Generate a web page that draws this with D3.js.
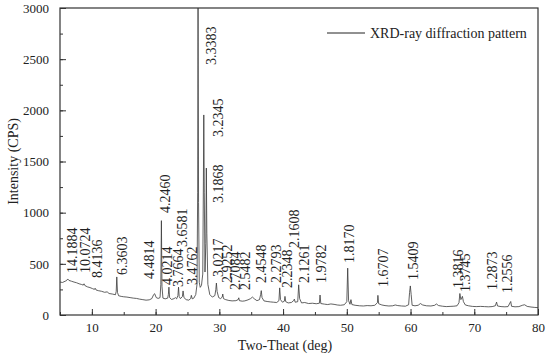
<!DOCTYPE html>
<html>
<head>
<meta charset="utf-8">
<script src="https://cdn.jsdelivr.net/npm/d3@7"></script>
<style>
  body { margin: 0; background: #fff; }
  svg { display: block; }
  svg text { font-family: "Liberation Serif", "Times New Roman", serif; }
</style>
</head>
<body>
<svg id="chart" width="550" height="360"></svg>
<script>
// --- data ---
// measured scan: [two-theta (deg), intensity (CPS)]
const pattern = [
  [5.0,322],[5.4,318],[5.8,330],[6.0,335],[6.22,352],[6.4,338],[6.8,330],[7.2,322],[7.6,315],[8.0,305],
  [8.4,298],[8.65,292],[8.77,305],[8.9,288],[9.3,275],[9.7,268],[10.1,258],[10.4,250],[10.51,262],[10.65,245],
  [11.0,238],[11.5,232],[12.0,222],[12.4,226],[12.7,210],[13.2,205],[13.7,198],[13.82,230],[13.91,372],[14.02,220],
  [14.2,188],[14.6,182],[15.0,178],[15.5,175],[16.0,170],[16.5,165],[17.0,162],[17.5,155],[18.0,150],[18.5,145],
  [19.0,148],[19.4,160],[19.7,200],[19.85,208],[20.1,170],[20.4,162],[20.7,170],[20.82,300],[20.91,922],[21.0,280],
  [21.15,165],[21.5,158],[21.9,165],[22.0,200],[22.09,272],[22.2,170],[22.5,152],[22.9,160],[23.1,170],[23.3,158],
  [23.5,190],[23.6,272],[23.7,180],[23.9,160],[24.2,180],[24.31,235],[24.45,170],[24.8,150],[25.2,145],[25.5,160],
  [25.61,192],[25.75,158],[26.0,165],[26.3,200],[26.5,300],[26.6,1200],[26.66,3200],[26.74,1100],[26.85,320],[27.0,270],
  [27.2,290],[27.4,400],[27.5,1300],[27.56,1955],[27.64,1200],[27.75,420],[27.88,700],[27.96,1436],[28.04,800],[28.2,300],
  [28.5,200],[28.9,175],[29.3,190],[29.45,250],[29.54,312],[29.65,230],[29.9,170],[30.2,160],[30.45,175],[30.54,205],
  [30.65,160],[31.0,150],[31.5,142],[32.0,138],[32.6,140],[32.95,150],[33.05,168],[33.15,140],[33.6,135],[34.0,138],
  [34.5,148],[34.9,160],[35.19,175],[35.5,158],[35.9,140],[36.3,150],[36.48,200],[36.58,238],[36.7,170],[37.0,138],
  [37.5,132],[38.0,128],[38.5,125],[39.0,122],[39.35,140],[39.47,265],[39.6,150],[39.9,125],[40.2,135],[40.3,182],
  [40.42,130],[40.8,118],[41.3,122],[41.65,140],[41.77,155],[41.9,125],[42.3,130],[42.45,295],[42.6,160],[42.9,118],
  [43.4,122],[44.0,112],[44.6,115],[45.2,110],[45.7,115],[45.8,195],[45.92,112],[46.5,106],[47.0,102],[47.5,108],
  [48.0,104],[48.5,98],[49.0,95],[49.6,100],[50.0,130],[50.14,458],[50.28,140],[50.5,105],[50.65,150],[50.8,102],
  [51.3,95],[52.0,90],[52.6,88],[53.2,92],[53.8,90],[54.4,95],[54.8,120],[54.88,192],[55.0,110],[55.5,98],
  [56.0,92],[56.6,88],[57.2,90],[57.6,98],[58.0,92],[58.6,88],[59.2,86],[59.7,100],[59.85,220],[59.97,284],
  [60.1,200],[60.25,95],[60.7,90],[61.2,95],[61.55,112],[61.9,98],[62.5,90],[63.2,88],[63.8,95],[64.05,108],
  [64.4,92],[65.0,86],[65.6,82],[66.2,84],[66.8,86],[67.3,90],[67.6,120],[67.74,210],[67.9,150],[68.02,165],
  [68.14,182],[68.3,130],[68.6,98],[69.1,90],[69.7,84],[70.3,82],[71.0,84],[71.6,82],[72.2,80],[72.8,82],
  [73.3,90],[73.5,126],[73.65,88],[74.2,82],[74.8,80],[75.3,82],[75.6,118],[75.72,132],[75.85,85],[76.4,80],
  [77.0,82],[77.6,96],[77.9,100],[78.3,84],[78.9,78],[79.5,74],[80.0,72]
];

// d-spacing labels and where each label sits: [two-theta, CPS] of its lower end
const peakLabels = ["14.1884","10.0724","8.4136","6.3603","4.4814","4.2460","4.0214","3.7664","3.6581","3.4762",
  "3.3383","3.2345","3.1868","3.0217","2.9252","2.7084","2.5482","2.4548","2.2793","2.2348",
  "2.1608","2.1261","1.9782","1.8170","1.6707","1.5409","1.3816","1.3745","1.2873","1.2556"];
const labelAngle = [6.96, 9.0, 10.89, 14.81, 19.05, 21.56, 21.88, 23.6, 24.23, 25.8,
  28.63, 29.73, 29.88, 29.73, 31.14, 32.55, 34.12, 36.48, 38.83, 40.71,
  41.66, 43.23, 45.9, 50.29, 55.63, 60.34, 67.4, 68.5, 72.74, 75.1];
const labelLevel = [410, 410, 361, 391, 352, 997, 293, 274, 664, 293,
  2443, 1739, 1094, 371, 313, 244, 244, 313, 313, 264,
  655, 313, 313, 508, 274, 342, 264, 225, 244, 215];

const xTicks = [10, 20, 30, 40, 50, 60, 70, 80];
const yTicks = [0, 500, 1000, 1500, 2000, 2500, 3000];
const xDomain = [5, 80];
const yDomain = [0, 3000];
const legendText = "XRD-ray diffraction pattern";
const xTitle = "Two-Theat (deg)";
const yTitle = "Intensity (CPS)";

// --- layout ---
const width = 550, height = 360;
const margin = { top: 8, right: 12, bottom: 45, left: 60 };
const innerW = width - margin.left - margin.right;
const innerH = height - margin.top - margin.bottom;
const serif = "Liberation Serif, Times New Roman, serif";

const svg = d3.select("#chart");
const g = svg.append("g").attr("transform", `translate(${margin.left},${margin.top})`);

const x = d3.scaleLinear().domain(xDomain).range([0, innerW]);
const y = d3.scaleLinear().domain(yDomain).range([innerH, 0]);

g.append("clipPath").attr("id", "plot-clip")
  .append("rect").attr("width", innerW).attr("height", innerH);

// minor ticks (inside), then major ticks with labels
g.append("g").attr("transform", `translate(0,${innerH})`)
  .call(d3.axisBottom(x).tickValues(d3.range(5, 81, 5)).tickSize(-3).tickFormat(""))
  .call(a => a.select(".domain").remove());
g.append("g")
  .call(d3.axisLeft(y).tickValues(d3.range(0, 3001, 250)).tickSize(-3).tickFormat(""))
  .call(a => a.select(".domain").remove());

const xAxis = g.append("g").attr("transform", `translate(0,${innerH})`)
  .call(d3.axisBottom(x).tickValues(xTicks).tickSize(-6).tickPadding(8).tickFormat(d3.format("d")));
const yAxis = g.append("g")
  .call(d3.axisLeft(y).tickValues(yTicks).tickSize(-6).tickPadding(11).tickFormat(d3.format("d")));

[xAxis, yAxis].forEach(a => {
  a.attr("font-family", serif);
  a.selectAll("text").attr("font-size", 13).attr("fill", "#222");
  a.select(".domain").remove();
});
g.selectAll(".tick line").attr("stroke", "#333").attr("stroke-width", 1);

// frame
g.append("rect").attr("width", innerW).attr("height", innerH)
  .attr("fill", "none").attr("stroke", "#333").attr("stroke-width", 1.2);

// scan line
const line = d3.line().x(d => x(d[0])).y(d => y(d[1]));
g.append("path").datum(pattern)
  .attr("clip-path", "url(#plot-clip)")
  .attr("fill", "none").attr("stroke", "#3a3a3a").attr("stroke-width", 0.8)
  .attr("stroke-linejoin", "round")
  .attr("d", line);

// peak labels
g.append("g").attr("font-family", serif).selectAll("text")
  .data(peakLabels)
  .join("text")
  .attr("transform", (d, i) => `translate(${x(labelAngle[i])},${y(labelLevel[i])}) rotate(-90)`)
  .attr("dy", "0.35em")
  .attr("font-size", 14)
  .attr("fill", "#222")
  .text(d => d);

// legend
const legend = g.append("g").attr("transform", `translate(${innerW - 211},25)`);
legend.append("line").attr("x1", 0).attr("x2", 38).attr("y1", 0).attr("y2", 0)
  .attr("stroke", "#222").attr("stroke-width", 1);
legend.append("text").attr("x", 43).attr("y", 0).attr("dy", "0.35em")
  .attr("font-family", serif)
  .attr("font-size", 14).attr("fill", "#222").text(legendText);

// axis titles
svg.append("text")
  .attr("x", margin.left + x(40.3)).attr("y", 350)
  .attr("text-anchor", "middle").attr("font-family", serif)
  .attr("font-size", 14).attr("fill", "#222")
  .text(xTitle);
svg.append("text")
  .attr("transform", `translate(18,${margin.top + innerH / 2}) rotate(-90)`)
  .attr("text-anchor", "middle").attr("font-family", serif)
  .attr("font-size", 14).attr("fill", "#222")
  .text(yTitle);
</script>
</body>
</html>
